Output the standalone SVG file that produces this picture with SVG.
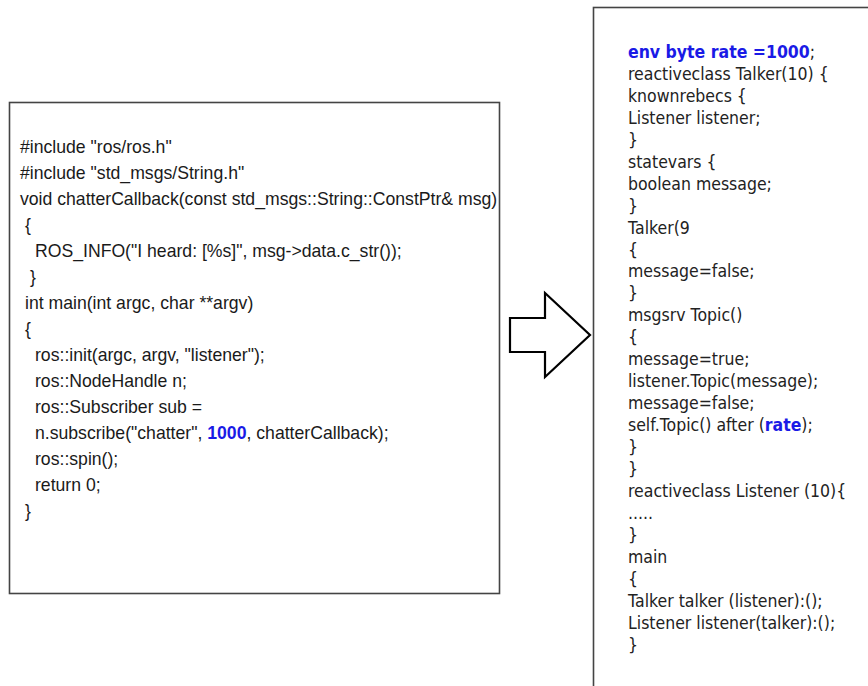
<svg xmlns="http://www.w3.org/2000/svg" width="868" height="686" viewBox="0 0 868 686">
<style>
.box{fill:#fff;stroke:#444;stroke-width:1.6}
.c{font-family:"Liberation Sans",Arial,sans-serif;font-size:18px;fill:#1a1a1a}
.r{font-family:"DejaVu Sans",Verdana,sans-serif;font-size:17.5px;fill:#222}
.kw{fill:#1a1ae6;font-weight:bold}
.arrow{fill:#fff;stroke:#000;stroke-width:2.2;stroke-linejoin:miter}
</style>
<rect width="868" height="686" fill="#fff"/>
<g id="ros-code">
<rect class="box" x="9.5" y="102.5" width="490" height="491"/>
<g transform="translate(0,0) scale(0.98,1)" class="c">
<text x="20.4" y="153">#include "ros/ros.h"</text>
<text x="20.4" y="179">#include "std_msgs/String.h"</text>
<text x="20.4" y="205">void chatterCallback(const std_msgs::String::ConstPtr&amp; msg)</text>
<text x="25.5" y="231">{</text>
<text x="35.7" y="257">ROS_INFO("I heard: [%s]", msg-&gt;data.c_str());</text>
<text x="30.6" y="283">}</text>
<text x="25.5" y="309">int main(int argc, char **argv)</text>
<text x="25.5" y="335">{</text>
<text x="35.7" y="361">ros::init(argc, argv, "listener");</text>
<text x="35.7" y="387">ros::NodeHandle n;</text>
<text x="35.7" y="413">ros::Subscriber sub =</text>
<text x="35.7" y="439">n.subscribe("chatter", <tspan class="kw">1000</tspan>, chatterCallback);</text>
<text x="35.7" y="465">ros::spin();</text>
<text x="35.7" y="491">return 0;</text>
<text x="25.5" y="517">}</text>
</g>
</g>
<g id="connectors">
<polygon class="arrow" points="510,318 545,318 545,293 590,335 545,377 545,352 510,352"/>
</g>
<g id="rebeca-code">
<rect class="box" x="593.5" y="7.5" width="300" height="700"/>
<g transform="translate(628,0) scale(0.9,1)" class="r">
<text x="0" y="58"><tspan class="kw">env byte rate =1000</tspan>;</text>
<text x="0" y="79.95">reactiveclass Talker(10) {</text>
<text x="0" y="101.9">knownrebecs {</text>
<text x="0" y="123.85">Listener listener;</text>
<text x="0" y="145.8">}</text>
<text x="0" y="167.75">statevars {</text>
<text x="0" y="189.7">boolean message;</text>
<text x="0" y="211.65">}</text>
<text x="0" y="233.6">Talker(9</text>
<text x="0" y="255.55">{</text>
<text x="0" y="277.5">message=false;</text>
<text x="0" y="299.45">}</text>
<text x="0" y="321.4">msgsrv Topic()</text>
<text x="0" y="343.35">{</text>
<text x="0" y="365.3">message=true;</text>
<text x="0" y="387.25">listener.Topic(message);</text>
<text x="0" y="409.2">message=false;</text>
<text x="0" y="431.15">self.Topic() after (<tspan class="kw">rate</tspan>);</text>
<text x="0" y="453.1">}</text>
<text x="0" y="475.05">}</text>
<text x="0" y="497">reactiveclass Listener (10){</text>
<text x="0" y="518.95">.....</text>
<text x="0" y="540.9">}</text>
<text x="0" y="562.85">main</text>
<text x="0" y="584.8">{</text>
<text x="0" y="606.75">Talker talker (listener):();</text>
<text x="0" y="628.7">Listener listener(talker):();</text>
<text x="0" y="650.65">}</text>
</g>
</g>
</svg>
